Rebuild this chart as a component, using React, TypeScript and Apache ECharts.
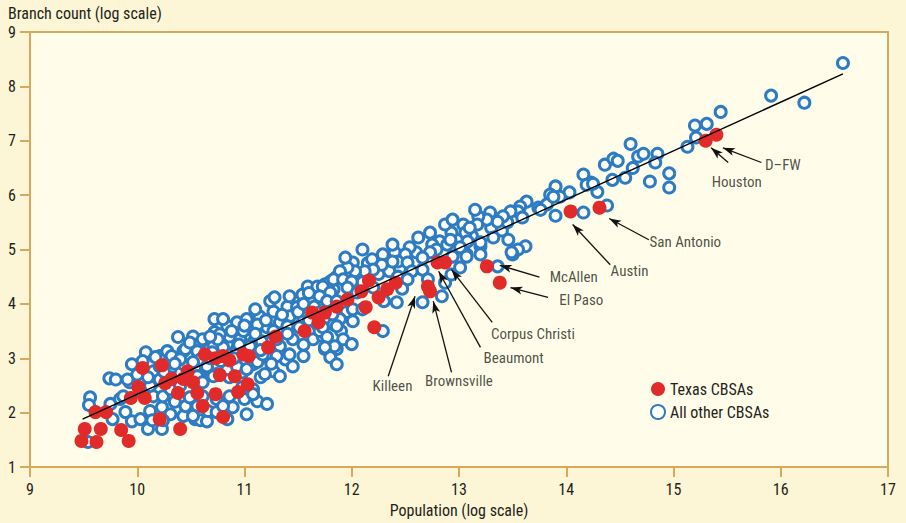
import React, { useEffect, useRef } from "react";
import * as echarts from "echarts";

// Texas CBSAs: [log population, log branch count]
const texasPoints: number[][] = [
  [9.48, 1.48], [9.62, 1.46], [9.51, 1.7], [9.66, 1.7], [9.85, 1.68], [9.92, 1.48], [9.61, 2.01], [9.71, 2.01],
  [9.94, 2.27], [10.07, 2.27], [10.01, 2.47], [10.05, 2.82], [10.23, 2.87], [10.26, 2.54], [10.21, 1.88], [10.4, 1.7],
  [10.38, 2.36], [10.43, 2.62], [10.47, 2.76], [10.56, 2.36], [10.61, 2.12], [10.63, 3.07], [10.73, 3.0], [10.8, 3.04],
  [10.86, 2.96], [10.99, 3.07], [11.04, 3.04], [11.22, 3.2], [11.29, 3.4], [11.56, 3.5], [11.63, 3.84], [11.69, 3.66],
  [11.75, 3.84], [11.86, 3.95], [10.77, 2.69], [10.91, 2.67], [11.03, 2.52], [10.94, 2.38], [10.73, 2.34], [10.8, 1.92],
  [11.96, 4.08], [12.09, 4.23], [12.16, 4.43], [12.25, 4.12], [12.33, 4.27], [12.41, 4.39], [12.13, 3.94], [12.21, 3.57],
  [12.71, 4.32], [12.73, 4.23], [12.8, 4.76], [12.87, 4.76], [13.26, 4.69], [13.38, 4.39], [14.04, 5.7], [14.31, 5.77],
  [15.3, 7.0], [15.4, 7.11], [10.32, 2.62], [10.52, 2.56],
];

// All other CBSAs
const otherPoints: number[][] = [
  [9.54, 1.46], [9.56, 2.28], [9.55, 2.14], [9.74, 2.63], [9.8, 2.61], [9.75, 2.16], [9.84, 2.25], [9.87, 2.3],
  [9.89, 2.01], [9.93, 2.56], [9.95, 2.89], [9.77, 1.88], [9.95, 1.84], [9.91, 2.61],
  [10.03, 1.88], [10.1, 1.7], [10.23, 1.7], [10.12, 2.03], [10.23, 2.1], [10.31, 1.97], [10.43, 1.94], [10.54, 1.88],
  [10.45, 2.12], [10.56, 2.12], [10.49, 2.28], [10.08, 3.11], [10.21, 3.04], [10.28, 3.13], [10.38, 3.39], [10.05, 2.95],
  [10.15, 2.76], [10.15, 2.56], [10.12, 2.49], [10.03, 2.39], [10.21, 2.61], [10.31, 2.8], [10.21, 2.85], [10.32, 3.04],
  [10.43, 2.89], [10.43, 3.13], [10.52, 3.22], [10.54, 2.83], [10.52, 3.4], [10.59, 3.11], [10.15, 2.3], [10.24, 2.3],
  [10.31, 2.43], [10.31, 2.65], [10.17, 3.02], [10.4, 2.98], [10.45, 3.17], [10.49, 3.29], [10.59, 3.29], [10.56, 3.13],
  [10.59, 2.98], [10.52, 2.93], [10.56, 2.67], [10.61, 2.56], [10.14, 1.86], [10.24, 1.86], [10.59, 1.86],
  [10.61, 2.3], [10.65, 1.84], [10.66, 2.03], [10.74, 2.25], [10.86, 2.3], [11.0, 2.25], [11.12, 2.21], [11.21, 2.16],
  [10.89, 2.1], [10.74, 2.01], [10.84, 1.88], [11.02, 1.97], [10.98, 2.47], [11.08, 2.43], [11.15, 2.65], [11.27, 2.76],
  [11.38, 2.98], [11.21, 3.02], [11.08, 2.89], [10.98, 2.74], [10.86, 2.65], [10.74, 2.71], [10.65, 2.8], [10.61, 3.35],
  [10.72, 3.48], [10.84, 3.59], [10.93, 3.66], [11.02, 3.72], [11.14, 3.77], [11.27, 3.86], [11.4, 3.95], [11.1, 3.9],
  [11.21, 3.57], [11.33, 3.66], [11.45, 3.75], [11.45, 3.35], [11.33, 3.22], [11.21, 3.29], [11.08, 3.29], [10.96, 3.35],
  [10.84, 3.26], [10.71, 3.22], [11.42, 3.07], [11.45, 2.85], [11.33, 2.67], [10.72, 3.72], [10.8, 3.72], [11.24, 4.05],
  [11.28, 4.12], [11.42, 4.14], [11.54, 4.17], [11.59, 4.32], [11.68, 4.32], [11.75, 4.36], [11.83, 4.27], [11.86, 4.5],
  [11.8, 4.41], [11.61, 4.05], [11.49, 3.94], [11.42, 3.77], [11.12, 3.62], [10.99, 3.5], [10.86, 3.4], [10.77, 3.44],
  [10.65, 2.85], [10.71, 2.67], [10.84, 2.8], [10.93, 2.85], [11.02, 2.8], [11.12, 2.93], [11.17, 3.07], [11.3, 3.04],
  [11.19, 2.71], [11.08, 2.34], [11.55, 3.04], [11.64, 3.35], [11.75, 3.17], [11.86, 3.17], [11.8, 3.02], [11.86, 2.89],
  [11.51, 3.57], [11.73, 3.4], [11.83, 3.62], [11.86, 3.84], [11.68, 3.62], [11.4, 3.59], [11.27, 3.5], [11.16, 3.31],
  [11.05, 3.22], [10.93, 3.13], [10.8, 3.2], [10.7, 3.11], [10.52, 1.94], [10.8, 2.12],
  [10.1, 2.65], [10.25, 2.75], [10.35, 2.9], [10.4, 2.5], [10.0, 2.7], [10.35, 2.2],
  [10.68, 3.0], [10.78, 2.95], [10.9, 3.0], [10.95, 3.25], [10.75, 3.35], [10.88, 3.5], [11.0, 3.6], [10.68, 3.4],
  [11.1, 3.45], [11.2, 3.7], [11.35, 3.8], [11.3, 3.35], [11.4, 3.45], [11.15, 3.15], [11.25, 2.9], [11.5, 3.85],
  [11.55, 4.0], [11.6, 3.7], [11.65, 3.95], [11.7, 3.5], [11.9, 3.5], [11.95, 3.85], [11.6, 4.2], [11.55, 3.25],
  [12.1, 4.4], [12.25, 4.55], [12.35, 4.6], [12.45, 4.65], [12.15, 4.75], [12.4, 4.95], [12.6, 4.95],
  [13.3, 5.4], [13.4, 5.35], [13.45, 5.5], [13.12, 5.25],
  [13.04, 5.46], [13.06, 5.31], [12.98, 5.18], [12.82, 5.15], [12.75, 5.09], [12.79, 5.0], [12.73, 4.95], [12.66, 4.85],
  [12.54, 5.04], [12.5, 4.91], [12.43, 4.78], [12.52, 4.76], [12.38, 4.78], [12.29, 4.91], [12.28, 4.72], [12.19, 4.82],
  [12.2, 4.63], [12.12, 4.6], [12.01, 4.76], [12.03, 4.6], [11.96, 4.67], [11.89, 4.6], [11.83, 4.45], [11.73, 4.32],
  [11.92, 4.45], [12.0, 4.41], [11.8, 4.21], [11.7, 4.14], [11.77, 4.05], [11.86, 4.05], [11.96, 4.3], [12.05, 4.21],
  [12.2, 4.3], [12.43, 4.5], [12.56, 4.6], [12.66, 4.63], [12.71, 4.45], [12.52, 4.45], [12.42, 4.03], [12.66, 4.03],
  [12.84, 4.14], [12.29, 3.5], [12.01, 3.68], [11.89, 3.72], [11.82, 3.81], [12.01, 3.9], [12.1, 3.9], [11.7, 3.84],
  [11.73, 3.57], [11.86, 3.59], [11.77, 3.39], [11.92, 3.35], [12.0, 3.26], [11.84, 3.22], [11.75, 3.2], [12.93, 5.31],
  [12.89, 5.09], [12.94, 4.87], [13.07, 4.91], [13.01, 4.67], [12.87, 4.39], [11.94, 4.85], [12.1, 5.0], [12.38, 5.09],
  [12.62, 5.22], [12.73, 5.31], [12.87, 5.46], [12.94, 5.55], [12.93, 4.54], [12.3, 4.05], [12.47, 4.28],
  [14.36, 6.56], [14.16, 6.38], [14.23, 6.23], [14.29, 6.06], [14.03, 6.05], [13.9, 6.16], [13.85, 6.01], [13.94, 5.97],
  [13.74, 5.77], [13.82, 5.83], [13.63, 5.88], [13.57, 5.79], [13.55, 5.7], [13.48, 5.7], [13.59, 5.59], [13.41, 5.61],
  [13.36, 5.51], [13.29, 5.68], [13.26, 5.55], [13.18, 5.61], [13.17, 5.46], [13.1, 5.4], [12.92, 5.18], [13.08, 5.15],
  [13.01, 5.04], [13.2, 5.06], [13.46, 5.18], [13.62, 5.06], [13.55, 5.0], [13.5, 4.91], [13.07, 4.87], [13.2, 4.91],
  [13.36, 4.69], [13.9, 5.62], [14.16, 5.68], [13.76, 5.73], [13.49, 4.95], [13.32, 5.22], [13.2, 5.13], [13.15, 5.73],
  [13.88, 5.97], [14.19, 6.19], [14.25, 6.21], [14.44, 6.67], [14.48, 6.63], [14.6, 6.94], [14.67, 6.71], [14.72, 6.76],
  [14.85, 6.76], [14.83, 6.6], [14.62, 6.5], [14.55, 6.32], [14.43, 6.28], [14.78, 6.25], [14.96, 6.4], [14.96, 6.14],
  [14.38, 5.81], [15.2, 7.28], [15.31, 7.31], [15.21, 7.06], [15.13, 6.89], [15.44, 7.53], [15.91, 7.83], [16.22, 7.7],
  [16.58, 8.43],
];

// Fitted regression line end points
const fitLine: number[][] = [[9.49, 1.88], [16.58, 8.23]];

// Annotations
const labelNames: string[] = ["D–FW", "Houston", "San Antonio", "Austin", "McAllen", "El Paso", "Corpus Christi", "Beaumont", "Brownsville", "Killeen"];
const labelPositions: number[][] = [
  [16.02, 6.56], [15.59, 6.25], [15.11, 5.13], [14.59, 4.61], [14.07, 4.5],
  [14.14, 4.08], [13.69, 3.44], [13.51, 3.0], [13.0, 2.58], [12.38, 2.49],
];
const arrowFrom: number[][] = [
  [15.82, 6.6], [15.51, 6.6], [14.77, 5.18], [14.41, 4.72], [13.75, 4.49],
  [13.83, 4.12], [13.31, 3.66], [13.2, 3.2], [12.93, 2.74], [12.34, 2.67],
];
const arrowTo: number[][] = [
  [15.46, 6.87], [15.35, 6.87], [14.4, 5.57], [14.06, 5.46], [13.38, 4.71],
  [13.48, 4.3], [12.93, 4.63], [12.81, 4.6], [12.76, 4.05], [12.59, 4.14],
];

const xTicks = { min: 9, max: 17, interval: 1 };
const yTicks = { min: 1, max: 9, interval: 1 };

const FONT = '"Liberation Sans Narrow", "Roboto Condensed", "DejaVu Sans Condensed", "Noto Sans", sans-serif';
const GOLD = "#d6a95c";
const TEXT = "#231f20";

export default function App() {
  const ref = useRef<HTMLDivElement>(null);

  useEffect(() => {
    if (!ref.current) return;
    const chart = echarts.init(ref.current, null, { renderer: "svg" });
    const axisCommon = {
      type: "value" as const,
      axisLine: { show: true, onZero: false, lineStyle: { color: GOLD, width: 2 } },
      axisTick: { show: true, length: 10, lineStyle: { color: GOLD, width: 2 } },
      axisLabel: { color: TEXT, fontSize: 16, margin: 14, fontFamily: FONT },
      splitLine: { show: false },
    };
    chart.setOption({
      animation: false,
      backgroundColor: "#fdf6d6",
      title: {
        text: "Branch count (log scale)",
        left: 8,
        top: 5,
        padding: 0,
        textStyle: { fontSize: 16, fontWeight: "normal", color: TEXT, fontFamily: FONT },
      },
      grid: {
        left: 30,
        right: 18,
        top: 32,
        bottom: 55,
        show: true,
        backgroundColor: "#fffde9",
        borderColor: GOLD,
        borderWidth: 2,
      },
      legend: {
        orient: "vertical",
        left: 650,
        top: 381,
        itemWidth: 14,
        itemHeight: 14,
        itemGap: 7,
        padding: 0,
        icon: "circle",
        data: ["Texas CBSAs", "All other CBSAs"],
        textStyle: { fontSize: 16, color: TEXT, fontFamily: FONT },
      },
      xAxis: {
        ...axisCommon,
        ...xTicks,
        name: "Population (log scale)",
        nameLocation: "middle",
        nameGap: 35,
        nameTextStyle: { fontSize: 16, color: TEXT, fontFamily: FONT },
      },
      yAxis: { ...axisCommon, ...yTicks },
      series: [
        {
          name: "All other CBSAs",
          type: "scatter",
          data: otherPoints,
          symbol: "circle",
          symbolSize: 11,
          itemStyle: { color: "#ffffff", borderColor: "#2d7cc2", borderWidth: 3, opacity: 1 },
          z: 2,
        },
        {
          name: "Texas CBSAs",
          type: "scatter",
          data: texasPoints,
          symbol: "circle",
          symbolSize: 14,
          itemStyle: { color: "#e12a2a", opacity: 1 },
          z: 3,
        },
        {
          name: "fit",
          type: "line",
          data: fitLine,
          showSymbol: false,
          silent: true,
          lineStyle: { color: "#000000", width: 1.4 },
          z: 4,
          markLine: {
            silent: true,
            symbol: ["none", "arrow"],
            symbolSize: [6, 12],
            label: { show: false },
            lineStyle: { color: "#111111", width: 1.3, type: "solid" },
            data: arrowFrom.map((f, i) => [{ coord: f }, { coord: arrowTo[i] }]),
          },
        },
        {
          name: "labels",
          type: "scatter",
          data: labelPositions.map((p, i) => ({ name: labelNames[i], value: p })),
          symbolSize: 1,
          itemStyle: { color: "rgba(0,0,0,0)" },
          silent: true,
          label: {
            show: true,
            position: "inside",
            formatter: "{b}",
            color: TEXT,
            fontSize: 15,
            fontFamily: FONT,
          },
          z: 5,
        },
      ],
    });
    return () => chart.dispose();
  }, []);

  return <div ref={ref} style={{ position: "fixed", left: 0, top: 0, width: 906, height: 523 }} />;
}
